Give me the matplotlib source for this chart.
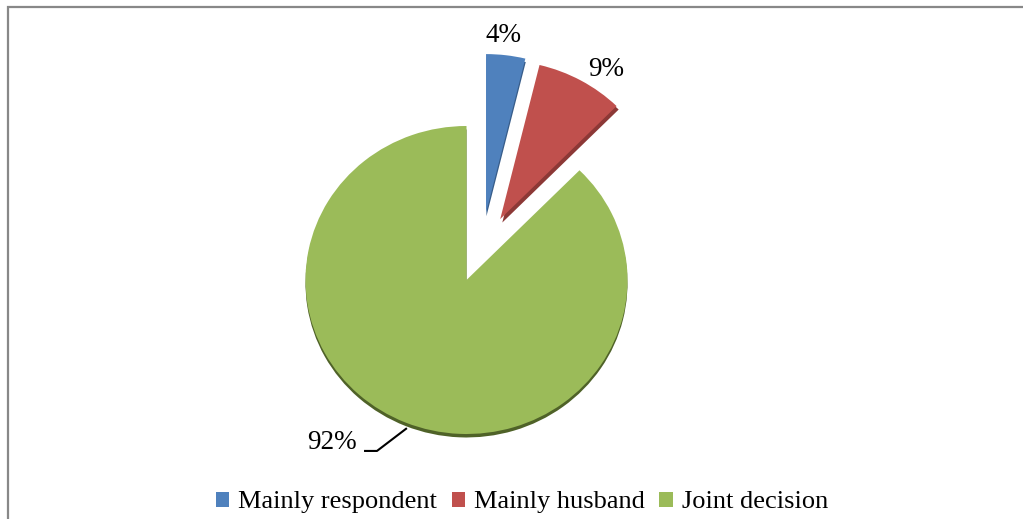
import numpy as np
import matplotlib.pyplot as plt
import matplotlib.patheffects as pe
from matplotlib.patches import Rectangle

labels = ['Mainly respondent', 'Mainly husband', 'Joint decision']
values = [4, 9, 92]
pct_text = ['4%', '9%', '92%']
colors = ['#4f81bd', '#c0504d', '#9bbb59']
shade = ['#385d8a', '#8c3836', '#4f6228']
explode = [0.43, 0.43, 0.0]

plt.rcParams['font.family'] = ['Liberation Serif', 'DejaVu Serif']

W, H = 1023, 519
cx, cy, Rx, Ry = 466.5, 280, 161, 154
fig = plt.figure(figsize=(W / 100, H / 100), dpi=100)
ax = fig.add_axes([0, 0, 1, 1])

wedges, _ = ax.pie(values, colors=colors, explode=explode, startangle=90,
                   counterclock=False, radius=1.0,
                   wedgeprops=dict(linewidth=0))
# pulled-out slices look a bit bigger in the original
c0 = wedges[0].center
wedges[0].set_center((c0[0] + 0.07, c0[1] + 0.01))
wedges[0].set_radius(1.03)
c1 = wedges[1].center
wedges[1].set_center((c1[0], c1[1] + 0.02))
wedges[1].set_radius(1.03)
offs = [(0.3, -2.5), (1.5, -2.5), (0, -2.5)]
for w, s, o in zip(wedges, shade, offs):
    w.set_path_effects([pe.SimplePatchShadow(offset=o, shadow_rgbFace=s, alpha=1),
                        pe.Normal()])

ax.set_aspect('auto')
ax.set_xlim(-cx / Rx, (W - cx) / Rx)
ax.set_ylim(-(H - cy) / Ry, cy / Ry)
ax.axis('off')

# labels along each wedge's bisector
nudge = [1.3, 3.3]
for i, w in enumerate(wedges[:2]):
    mid = np.deg2rad((w.theta1 + w.theta2) / 2 - nudge[i])
    rr = [1.607, 1.62][i]
    ax.text(rr * np.cos(mid), rr * np.sin(mid), pct_text[i], ha='center',
            va='center', fontsize=19.5)

g = wedges[2]
mid = np.deg2rad((g.theta1 + g.theta2) / 2)
x0, y0 = 0.99 * np.cos(mid), 0.99 * np.sin(mid) - 0.05
ax.plot([x0, -0.556, -0.63], [y0, -1.11, -1.11], color='black', lw=1.5)
ax.text(-0.68, -1.058, pct_text[2], ha='right', va='center', fontsize=19.5)

handles = [Rectangle((0, 0), 1, 1, facecolor=c, lw=0) for c in colors]
leg = ax.legend(handles, labels, loc='lower center', bbox_to_anchor=(522 / W, -0.035),
                ncol=3, frameon=False, fontsize=19, handlelength=0.5,
                handleheight=0.5, handletextpad=0.35, columnspacing=0.55)

fig.add_artist(Rectangle((7.5 / W, -0.1), 1.2, 1 - 7.5 / H + 0.1,
                         transform=fig.transFigure, fill=False,
                         edgecolor='#888888', lw=1.6))

fig.savefig('out.png', dpi=100)
